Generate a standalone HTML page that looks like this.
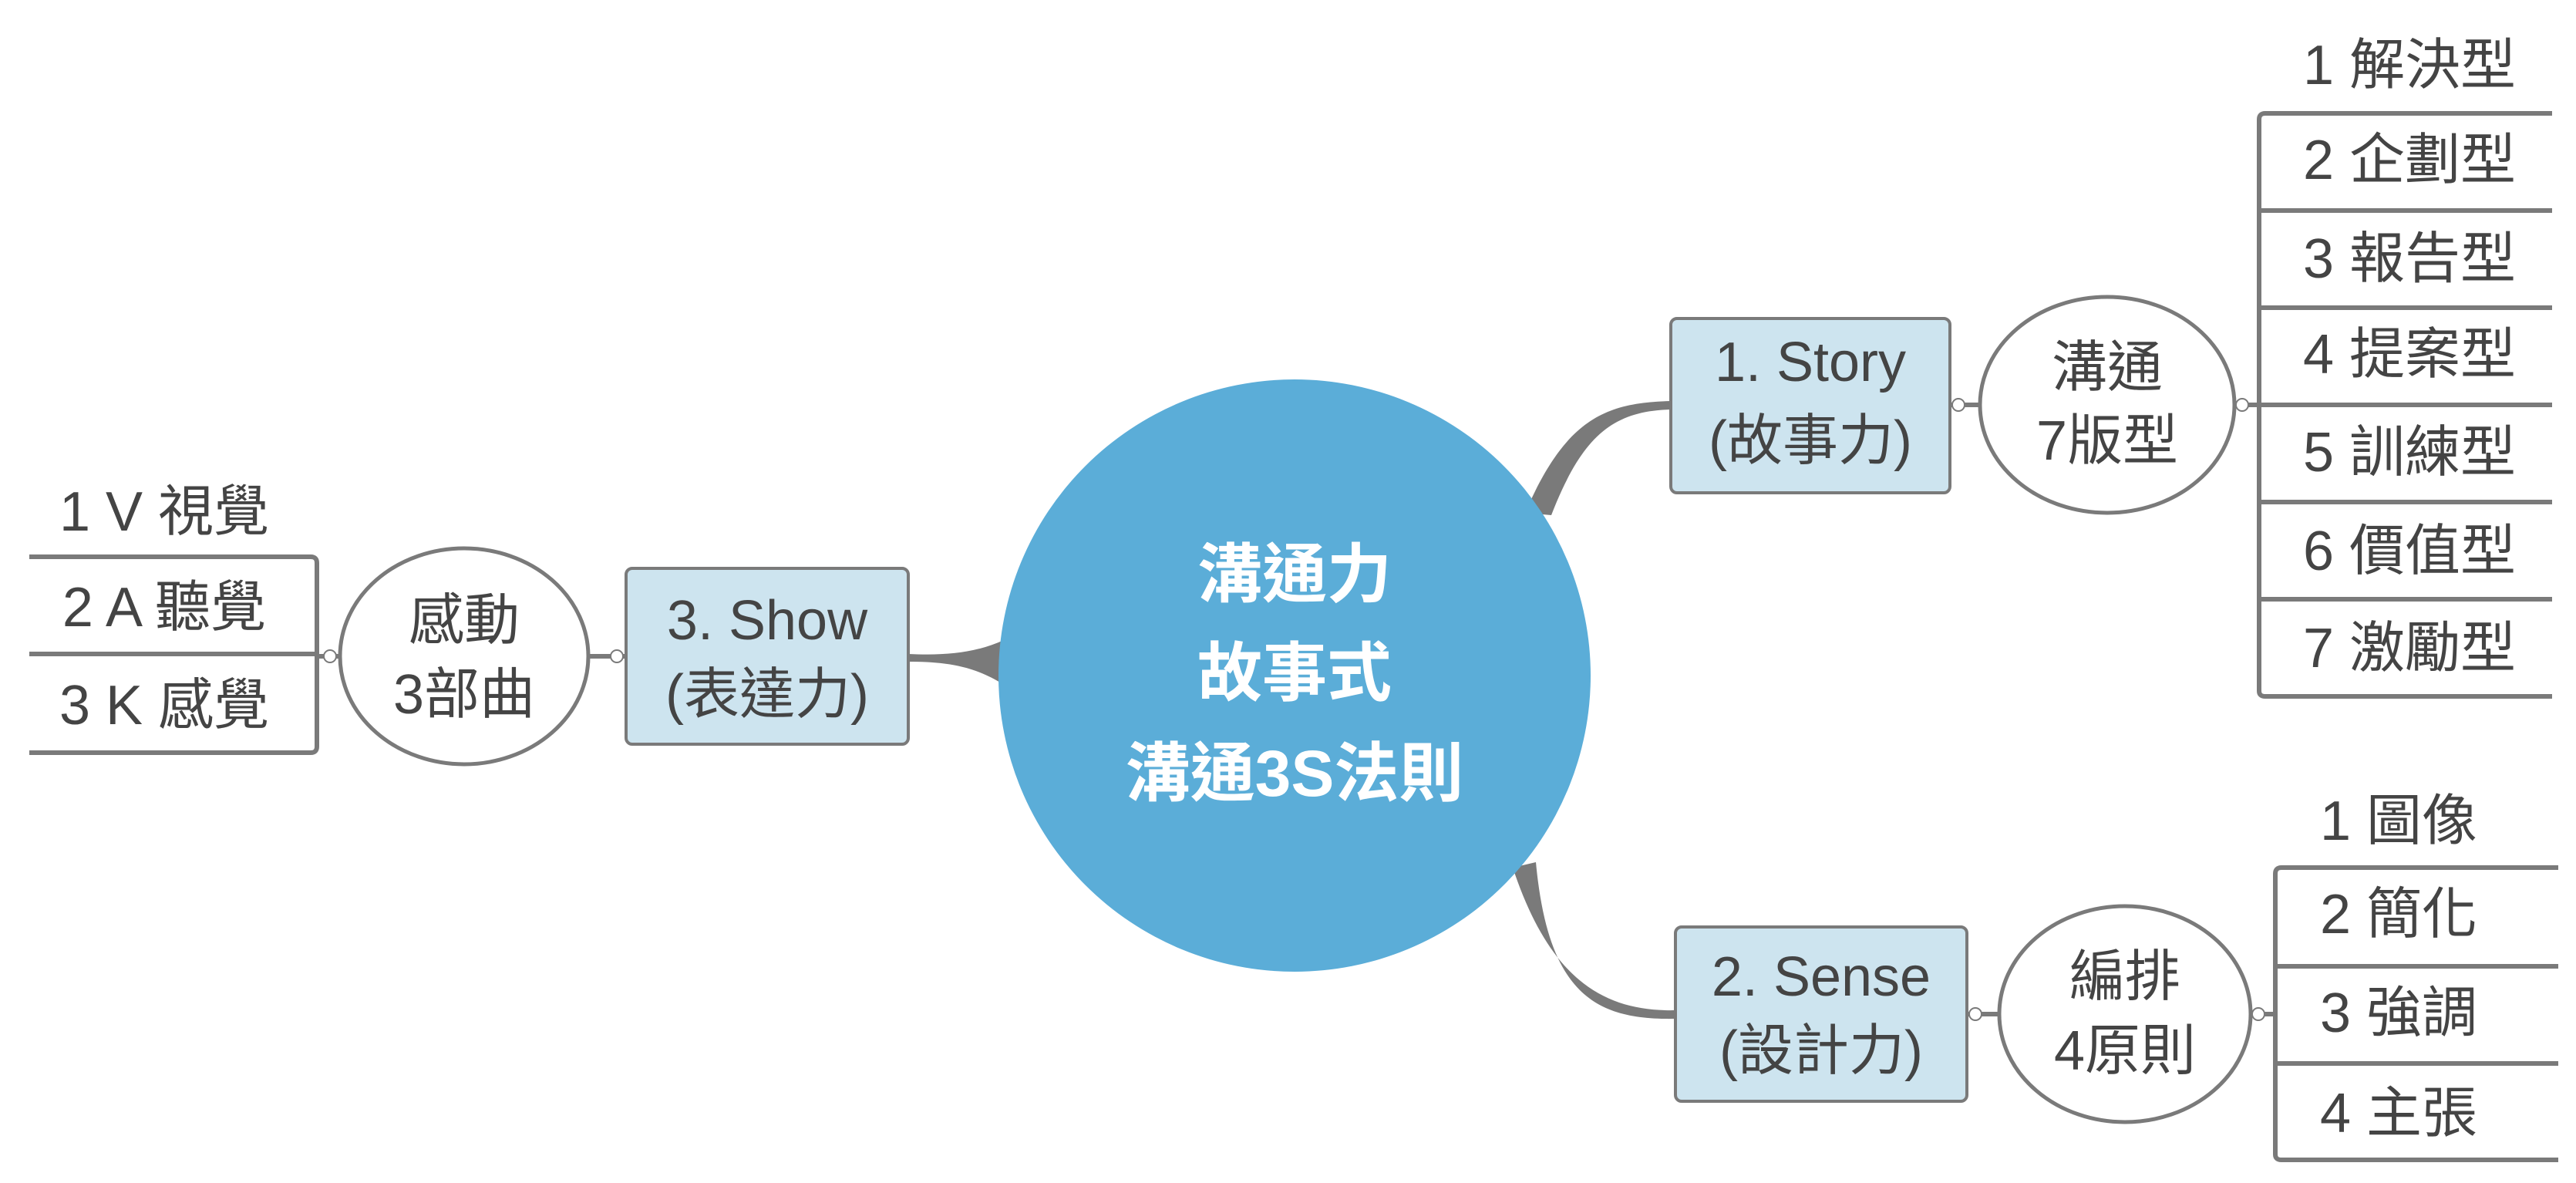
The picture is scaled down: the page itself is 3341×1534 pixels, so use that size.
<!DOCTYPE html>
<html><head><meta charset="utf-8"><style>
html,body{margin:0;padding:0;background:#fff;}
svg{display:block;}
text{font-family:"Liberation Sans","Noto Sans CJK TC",sans-serif;fill:#444;}
</style></head><body>
<svg width="3341" height="1534" viewBox="0 0 3341 1534" xmlns="http://www.w3.org/2000/svg">
<g fill="#7a7a7a">
<path d="M1978,665 C2030,545 2080,522 2167,520 L2167,531 C2092,533 2052,565 2012,668 Z"/>
<path d="M1962,1125 C2010,1270 2080,1312 2173,1310 L2173,1321 C2070,1323 2008,1290 1992,1118 Z"/>
<path d="M1302,830 C1262,848 1222,850 1178,848 L1178,858 C1222,858 1262,862 1302,888 Z"/>
</g>
<circle cx="1679" cy="876" r="384" fill="#5BADD8"/>
<g font-size="84" font-weight="bold" text-anchor="middle" dominant-baseline="middle">
<text x="1679" y="752" style="fill:#fff">溝通力</text>
<text x="1679" y="880" style="fill:#fff">故事式</text>
<text x="1679" y="1010" style="fill:#fff">溝通3S法則</text>
</g>
<g fill="none" stroke="#7a7a7a" stroke-width="6">
<rect x="2167" y="413" width="362" height="226" rx="8" fill="#CDE4EF" stroke-width="4"/>
<rect x="2173" y="1202" width="378" height="226" rx="8" fill="#CDE4EF" stroke-width="4"/>
<rect x="812" y="737" width="366" height="228" rx="8" fill="#CDE4EF" stroke-width="4"/>
<ellipse cx="2733" cy="525" rx="165" ry="140" fill="#fff" stroke-width="5"/>
<ellipse cx="2756" cy="1315" rx="163" ry="140" fill="#fff" stroke-width="5"/>
<ellipse cx="602" cy="851" rx="161" ry="140" fill="#fff" stroke-width="5"/>
<line x1="2529" y1="525" x2="2568" y2="525"/>
<line x1="2551" y1="1315" x2="2593" y2="1315"/>
<line x1="763" y1="851" x2="812" y2="851"/>
<path d="M2898,525 H2930 M3310,147 H2938 Q2930,147 2930,155 V896 Q2930,903 2938,903 H3310 M2930,273 H3310 M2930,399 H3310 M2930,525 H3310 M2930,651 H3310 M2930,777 H3310"/>
<path d="M2919,1315 H2951 M3318,1125 H2959 Q2951,1125 2951,1133 V1497 Q2951,1504 2959,1504 H3318 M2951,1253 H3318 M2951,1379 H3318"/>
<path d="M441,851 H411 M38,722 H403 Q411,722 411,730 V968 Q411,976 403,976 H38 M38,848 H411"/>
</g>
<g fill="#fff" stroke="#7a7a7a" stroke-width="2">
<circle cx="2540" cy="525" r="8"/><circle cx="2908" cy="525" r="8"/>
<circle cx="2562" cy="1315" r="8"/><circle cx="2929" cy="1315" r="8"/>
<circle cx="800" cy="851" r="8"/><circle cx="428" cy="851" r="8"/>
</g>
<g font-size="72" text-anchor="middle" dominant-baseline="middle">
<text x="2348" y="475">1. Story</text>
<text x="2348" y="577">(故事力)</text>
<text x="2733" y="482">溝通</text>
<text x="2733" y="577">7版型</text>
<text x="2362" y="1272">2. Sense</text>
<text x="2362" y="1368">(設計力)</text>
<text x="2756" y="1272">編排</text>
<text x="2756" y="1368">4原則</text>
<text x="995" y="810">3. Show</text>
<text x="995" y="906">(表達力)</text>
<text x="602" y="810">感動</text>
<text x="602" y="906">3部曲</text>
<text x="213" y="669">1 V 視覺</text>
<text x="213" y="793">2 A 聽覺</text>
<text x="213" y="920">3 K 感覺</text>
<text x="3125" y="90">1 解決型</text>
<text x="3125" y="213">2 企劃型</text>
<text x="3125" y="341">3 報告型</text>
<text x="3125" y="465">4 提案型</text>
<text x="3125" y="592">5 訓練型</text>
<text x="3125" y="720">6 價值型</text>
<text x="3125" y="846">7 激勵型</text>
<text x="3111" y="1070">1 圖像</text>
<text x="3111" y="1191">2 簡化</text>
<text x="3111" y="1319">3 強調</text>
<text x="3111" y="1449">4 主張</text>
</g>
</svg>
</body></html>
